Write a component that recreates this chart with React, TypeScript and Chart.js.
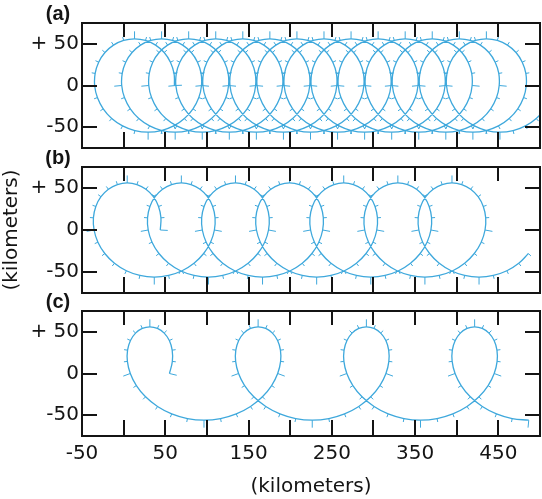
import React, { useEffect, useRef } from "react";
import { Chart, registerables } from "chart.js";

Chart.register(...registerables);

// ---------- axes ----------
const X_MIN = -50;
const X_MAX = 500;
const Y_MIN = -75;
const Y_MAX = 75;
const X_TICKS = [-50, 0, 50, 100, 150, 200, 250, 300, 350, 400, 450, 500];
const X_LABELED = [-50, 50, 150, 250, 350, 450];
const Y_TICKS = [-50, 0, 50];
const Y_LABELS: Record<string, string> = { "50": "+ 50", "0": "0", "-50": "-50" };
const PANEL_LABELS = ["(a)", "(b)", "(c)"];
const AXIS_TITLE = "(kilometers)";

// ---------- hourly positions (km) ----------
// (a) slow drift
const xA = [
  61, 60.5, 56.2, 48.7, 38.4, 26.3, 13.1, 0, -12.2, -22.4, -30, -34.2, -34.8, -31.5, -24.5, -14.3, -1.3, 13.5, 29.4, 45.2, 60.1, 73, 83.3, 90.3,
  93.5, 93, 88.7, 81.2, 70.9, 58.8, 45.6, 32.5, 20.3, 10.1, 2.5, -1.7, -2.3, 1, 8, 18.2, 31.2, 46, 61.9, 77.7, 92.6, 105.5, 115.8, 122.8,
  126, 125.5, 121.2, 113.7, 103.4, 91.3, 78.1, 65, 52.8, 42.6, 35, 30.8, 30.2, 33.5, 40.5, 50.7, 63.7, 78.5, 94.4, 110.2, 125.1, 138, 148.3, 155.3,
  158.5, 158, 153.7, 146.2, 135.9, 123.8, 110.6, 97.5, 85.3, 75.1, 67.5, 63.3, 62.7, 66, 73, 83.2, 96.2, 111, 126.9, 142.7, 157.6, 170.5, 180.8, 187.8,
  191, 190.5, 186.2, 178.7, 168.4, 156.3, 143.1, 130, 117.8, 107.6, 100, 95.8, 95.2, 98.5, 105.5, 115.7, 128.7, 143.5, 159.4, 175.2, 190.1, 203, 213.3, 220.3,
  223.5, 223, 218.7, 211.2, 200.9, 188.8, 175.6, 162.5, 150.3, 140.1, 132.5, 128.3, 127.7, 131, 138, 148.2, 161.2, 176, 191.9, 207.7, 222.6, 235.5, 245.8, 252.8,
  256, 255.5, 251.2, 243.7, 233.4, 221.3, 208.1, 195, 182.8, 172.6, 165, 160.8, 160.2, 163.5, 170.5, 180.7, 193.7, 208.5, 224.4, 240.2, 255.1, 268, 278.3, 285.3,
  288.5, 288, 283.7, 276.2, 265.9, 253.8, 240.6, 227.5, 215.3, 205.1, 197.5, 193.3, 192.7, 196, 203, 213.2, 226.2, 241, 256.9, 272.7, 287.6, 300.5, 310.8, 317.8,
  321, 320.5, 316.2, 308.7, 298.4, 286.3, 273.1, 260, 247.8, 237.6, 230, 225.8, 225.2, 228.5, 235.5, 245.7, 258.7, 273.5, 289.4, 305.2, 320.1, 333, 343.3, 350.3,
  353.5, 353, 348.7, 341.2, 330.9, 318.8, 305.6, 292.5, 280.3, 270.1, 262.5, 258.3, 257.7, 261, 268, 278.2, 291.2, 306, 321.9, 337.7, 352.6, 365.5, 375.8, 382.8,
  386, 385.5, 381.2, 373.7, 363.4, 351.3, 338.1, 325, 312.8, 302.6, 295, 290.8, 290.2, 293.5, 300.5, 310.7, 323.7, 338.5, 354.4, 370.2, 385.1, 398, 408.3, 415.3,
  418.5, 418, 413.7, 406.2, 395.9, 383.8, 370.6, 357.5, 345.3, 335.1, 327.5, 323.3, 322.7, 326, 333, 343.2, 356.2, 371, 386.9, 402.7, 417.6, 430.5, 440.8, 447.8,
  451, 450.5, 446.2, 438.7, 428.4, 416.3, 403.1, 390, 377.8, 367.6, 360, 355.8, 355.2, 358.5, 365.5, 375.7, 388.7, 403.5, 419.4, 435.2, 450.1, 463, 473.3, 480.3,
  483.5, 483, 478.7, 471.2, 460.9, 448.8, 435.6, 422.5, 410.3, 400.1, 392.5, 388.3, 387.7, 391, 398, 408.2, 421.2, 436, 451.9, 467.7, 482.6, 495.5, 505.8,
];
const yA = [
  0, 14.5, 28, 39.6, 48.5, 54.1, 56, 54.1, 48.5, 39.6, 28, 14.5, 0, -14.5, -28, -39.6, -48.5, -54.1, -56, -54.1, -48.5, -39.6, -28, -14.5,
  0, 14.5, 28, 39.6, 48.5, 54.1, 56, 54.1, 48.5, 39.6, 28, 14.5, 0, -14.5, -28, -39.6, -48.5, -54.1, -56, -54.1, -48.5, -39.6, -28, -14.5,
  0, 14.5, 28, 39.6, 48.5, 54.1, 56, 54.1, 48.5, 39.6, 28, 14.5, 0, -14.5, -28, -39.6, -48.5, -54.1, -56, -54.1, -48.5, -39.6, -28, -14.5,
  0, 14.5, 28, 39.6, 48.5, 54.1, 56, 54.1, 48.5, 39.6, 28, 14.5, 0, -14.5, -28, -39.6, -48.5, -54.1, -56, -54.1, -48.5, -39.6, -28, -14.5,
  0, 14.5, 28, 39.6, 48.5, 54.1, 56, 54.1, 48.5, 39.6, 28, 14.5, 0, -14.5, -28, -39.6, -48.5, -54.1, -56, -54.1, -48.5, -39.6, -28, -14.5,
  0, 14.5, 28, 39.6, 48.5, 54.1, 56, 54.1, 48.5, 39.6, 28, 14.5, 0, -14.5, -28, -39.6, -48.5, -54.1, -56, -54.1, -48.5, -39.6, -28, -14.5,
  0, 14.5, 28, 39.6, 48.5, 54.1, 56, 54.1, 48.5, 39.6, 28, 14.5, 0, -14.5, -28, -39.6, -48.5, -54.1, -56, -54.1, -48.5, -39.6, -28, -14.5,
  0, 14.5, 28, 39.6, 48.5, 54.1, 56, 54.1, 48.5, 39.6, 28, 14.5, 0, -14.5, -28, -39.6, -48.5, -54.1, -56, -54.1, -48.5, -39.6, -28, -14.5,
  0, 14.5, 28, 39.6, 48.5, 54.1, 56, 54.1, 48.5, 39.6, 28, 14.5, 0, -14.5, -28, -39.6, -48.5, -54.1, -56, -54.1, -48.5, -39.6, -28, -14.5,
  0, 14.5, 28, 39.6, 48.5, 54.1, 56, 54.1, 48.5, 39.6, 28, 14.5, 0, -14.5, -28, -39.6, -48.5, -54.1, -56, -54.1, -48.5, -39.6, -28, -14.5,
  0, 14.5, 28, 39.6, 48.5, 54.1, 56, 54.1, 48.5, 39.6, 28, 14.5, 0, -14.5, -28, -39.6, -48.5, -54.1, -56, -54.1, -48.5, -39.6, -28, -14.5,
  0, 14.5, 28, 39.6, 48.5, 54.1, 56, 54.1, 48.5, 39.6, 28, 14.5, 0, -14.5, -28, -39.6, -48.5, -54.1, -56, -54.1, -48.5, -39.6, -28, -14.5,
  0, 14.5, 28, 39.6, 48.5, 54.1, 56, 54.1, 48.5, 39.6, 28, 14.5, 0, -14.5, -28, -39.6, -48.5, -54.1, -56, -54.1, -48.5, -39.6, -28, -14.5,
  0, 14.5, 28, 39.6, 48.5, 54.1, 56, 54.1, 48.5, 39.6, 28, 14.5, 0, -14.5, -28, -39.6, -48.5, -54.1, -56, -54.1, -48.5, -39.6, -28,
];

// (b) moderate drift
const xB = [
  44, 44.8, 41.9, 35.7, 26.8, 16, 4.3, -7.5, -18.3, -27.2, -33.4, -36.3, -35.5, -30.9, -22.6, -11, 3.3, 19.5, 36.8, 54, 70.2, 84.5, 96.1, 104.4,
  109, 109.8, 106.9, 100.7, 91.8, 81, 69.3, 57.5, 46.7, 37.8, 31.6, 28.7, 29.5, 34.1, 42.4, 54, 68.3, 84.5, 101.8, 119, 135.2, 149.5, 161.1, 169.4,
  174, 174.8, 171.9, 165.7, 156.8, 146, 134.3, 122.5, 111.7, 102.8, 96.6, 93.7, 94.5, 99.1, 107.4, 119, 133.3, 149.5, 166.8, 184, 200.2, 214.5, 226.1, 234.4,
  239, 239.8, 236.9, 230.7, 221.8, 211, 199.3, 187.5, 176.7, 167.8, 161.6, 158.7, 159.5, 164.1, 172.4, 184, 198.3, 214.5, 231.8, 249, 265.2, 279.5, 291.1, 299.4,
  304, 304.8, 301.9, 295.7, 286.8, 276, 264.3, 252.5, 241.7, 232.8, 226.6, 223.7, 224.5, 229.1, 237.4, 249, 263.3, 279.5, 296.8, 314, 330.2, 344.5, 356.1, 364.4,
  369, 369.8, 366.9, 360.7, 351.8, 341, 329.3, 317.5, 306.7, 297.8, 291.6, 288.7, 289.5, 294.1, 302.4, 314, 328.3, 344.5, 361.8, 379, 395.2, 409.5, 421.1, 429.4,
  434, 434.8, 431.9, 425.7, 416.8, 406, 394.3, 382.5, 371.7, 362.8, 356.6, 353.7, 354.5, 359.1, 367.4, 379, 393.3, 409.5, 426.8, 444, 460.2, 474.5, 486.1,
];
const yB = [
  0, 14.5, 28, 39.6, 48.5, 54.1, 56, 54.1, 48.5, 39.6, 28, 14.5, 0, -14.5, -28, -39.6, -48.5, -54.1, -56, -54.1, -48.5, -39.6, -28, -14.5,
  0, 14.5, 28, 39.6, 48.5, 54.1, 56, 54.1, 48.5, 39.6, 28, 14.5, 0, -14.5, -28, -39.6, -48.5, -54.1, -56, -54.1, -48.5, -39.6, -28, -14.5,
  0, 14.5, 28, 39.6, 48.5, 54.1, 56, 54.1, 48.5, 39.6, 28, 14.5, 0, -14.5, -28, -39.6, -48.5, -54.1, -56, -54.1, -48.5, -39.6, -28, -14.5,
  0, 14.5, 28, 39.6, 48.5, 54.1, 56, 54.1, 48.5, 39.6, 28, 14.5, 0, -14.5, -28, -39.6, -48.5, -54.1, -56, -54.1, -48.5, -39.6, -28, -14.5,
  0, 14.5, 28, 39.6, 48.5, 54.1, 56, 54.1, 48.5, 39.6, 28, 14.5, 0, -14.5, -28, -39.6, -48.5, -54.1, -56, -54.1, -48.5, -39.6, -28, -14.5,
  0, 14.5, 28, 39.6, 48.5, 54.1, 56, 54.1, 48.5, 39.6, 28, 14.5, 0, -14.5, -28, -39.6, -48.5, -54.1, -56, -54.1, -48.5, -39.6, -28, -14.5,
  0, 14.5, 28, 39.6, 48.5, 54.1, 56, 54.1, 48.5, 39.6, 28, 14.5, 0, -14.5, -28, -39.6, -48.5, -54.1, -56, -54.1, -48.5, -39.6, -28,
];

// (c) fast drift
const xC = [
  55, 58.5, 58.3, 54.9, 48.7, 40.6, 31.5, 22.4, 14.3, 8.2, 4.7, 4.5, 8, 15.3, 26.3, 40.7, 57.7, 76.6, 96.5, 116.4, 135.3, 152.4, 166.7, 177.7,
  185, 188.5, 188.3, 184.9, 178.7, 170.6, 161.5, 152.4, 144.3, 138.2, 134.7, 134.5, 138, 145.3, 156.3, 170.7, 187.7, 206.6, 226.5, 246.4, 265.3, 282.4, 296.7, 307.7,
  315, 318.5, 318.3, 314.9, 308.7, 300.6, 291.5, 282.4, 274.3, 268.2, 264.7, 264.5, 268, 275.3, 286.3, 300.7, 317.7, 336.6, 356.5, 376.4, 395.3, 412.4, 426.7, 437.7,
  445, 448.5, 448.3, 444.9, 438.7, 430.6, 421.5, 412.4, 404.3, 398.2, 394.7, 394.5, 398, 405.3, 416.3, 430.7, 447.7, 466.6, 486.5,
];
const yC = [
  0, 14.5, 28, 39.6, 48.5, 54.1, 56, 54.1, 48.5, 39.6, 28, 14.5, 0, -14.5, -28, -39.6, -48.5, -54.1, -56, -54.1, -48.5, -39.6, -28, -14.5,
  0, 14.5, 28, 39.6, 48.5, 54.1, 56, 54.1, 48.5, 39.6, 28, 14.5, 0, -14.5, -28, -39.6, -48.5, -54.1, -56, -54.1, -48.5, -39.6, -28, -14.5,
  0, 14.5, 28, 39.6, 48.5, 54.1, 56, 54.1, 48.5, 39.6, 28, 14.5, 0, -14.5, -28, -39.6, -48.5, -54.1, -56, -54.1, -48.5, -39.6, -28, -14.5,
  0, 14.5, 28, 39.6, 48.5, 54.1, 56, 54.1, 48.5, 39.6, 28, 14.5, 0, -14.5, -28, -39.6, -48.5, -54.1, -56,
];

// ---------- styles ----------
const CURVE = "#3ea8dc";
const INK = "#141414";
const FONT = '"DejaVu Sans", "Liberation Sans", Arial, sans-serif';
const LABEL_FONT = '"Liberation Sans", Arial, Helvetica, sans-serif';

const decorPlugin = {
  id: "decor",
  afterDatasetsDraw(chart: any, _args: any, opts: any) {
    const ctx: CanvasRenderingContext2D = chart.ctx;
    const a = chart.chartArea;
    const pts = chart.getDatasetMeta(0).data;
    // hourly time marks along the track (longer every 6 h)
    ctx.save();
    ctx.beginPath();
    ctx.rect(a.left, a.top, a.right - a.left, a.bottom - a.top);
    ctx.clip();
    ctx.strokeStyle = CURVE;
    ctx.lineWidth = 1;
    ctx.beginPath();
    for (let i = 0; i < pts.length; i++) {
      const p0 = pts[Math.max(i - 1, 0)];
      const p1 = pts[Math.min(i + 1, pts.length - 1)];
      let dx = p1.x - p0.x;
      let dy = p1.y - p0.y;
      const len = Math.hypot(dx, dy) || 1;
      dx /= len;
      dy /= len;
      const nx = -dy;
      const ny = dx;
      const L = i % 6 === 0 ? 7.5 : 3.5;
      const p = pts[i];
      ctx.moveTo(p.x, p.y);
      ctx.lineTo(p.x + nx * L, p.y + ny * L);
    }
    ctx.stroke();
    ctx.restore();

    // frame and inward ticks
    const xs = chart.scales.x;
    const ys = chart.scales.y;
    ctx.save();
    ctx.strokeStyle = INK;
    ctx.lineWidth = 2;
    ctx.strokeRect(a.left, a.top, a.right - a.left, a.bottom - a.top);
    ctx.beginPath();
    X_TICKS.forEach((v) => {
      if (v <= X_MIN || v >= X_MAX) return;
      const px = Math.round(xs.getPixelForValue(v));
      ctx.moveTo(px, a.top);
      ctx.lineTo(px, a.top + 14);
      ctx.moveTo(px, a.bottom);
      ctx.lineTo(px, a.bottom - 16);
    });
    Y_TICKS.forEach((v) => {
      const py = Math.round(ys.getPixelForValue(v));
      ctx.moveTo(a.left, py);
      ctx.lineTo(a.left + 15, py);
      ctx.moveTo(a.right, py);
      ctx.lineTo(a.right - 15, py);
    });
    ctx.stroke();
    ctx.fillStyle = INK;
    ctx.font = `bold 20px ${LABEL_FONT}`;
    ctx.textAlign = "center";
    ctx.textBaseline = "middle";
    ctx.fillText(opts.label, a.left - 24, a.top - 9);
    ctx.restore();
  },
};

type PanelProps = {
  xs: number[];
  ys: number[];
  label: string;
  top: number;
  height: number;
  padTop: number;
  padBottom: number;
  showX: boolean;
  showYTitle: boolean;
};

function Panel(props: PanelProps) {
  const ref = useRef<HTMLCanvasElement | null>(null);
  useEffect(() => {
    if (!ref.current) return;
    const points = props.xs.map((x, i) => ({ x, y: props.ys[i] }));
    const chart = new Chart(ref.current, {
      type: "scatter",
      data: {
        datasets: [
          {
            data: points,
            showLine: true,
            borderColor: CURVE,
            borderWidth: 1.3,
            pointRadius: 0,
            pointHoverRadius: 0,
            tension: 0.4,
            fill: false,
            clip: 0,
          } as any,
        ],
      },
      options: {
        animation: false,
        responsive: false,
        events: [],
        layout: { padding: { top: props.padTop, bottom: props.padBottom, left: 0, right: 2 } },
        plugins: {
          legend: { display: false },
          tooltip: { enabled: false },
          decor: { label: props.label },
        } as any,
        scales: {
          x: {
            type: "linear",
            min: X_MIN,
            max: X_MAX,
            display: props.showX,
            afterBuildTicks: (s: any) => {
              s.ticks = X_TICKS.map((v) => ({ value: v }));
            },
            afterFit: (s: any) => {
              s.height = props.showX ? 63 : 0;
              s.paddingLeft = 0;
              s.paddingRight = 0;
            },
            grid: { display: false, drawTicks: false },
            border: { display: false },
            ticks: {
              padding: 6,
              autoSkip: false,
              maxRotation: 0,
              color: INK,
              font: { family: FONT, size: 20 },
              callback: (v: any) => (X_LABELED.includes(Number(v)) ? String(v) : ""),
            },
            title: {
              display: props.showX,
              text: AXIS_TITLE,
              color: INK,
              font: { family: FONT, size: 20 },
              padding: { top: 0, bottom: 0 },
            },
          },
          y: {
            type: "linear",
            min: Y_MIN,
            max: Y_MAX,
            afterBuildTicks: (s: any) => {
              s.ticks = Y_TICKS.map((v) => ({ value: v }));
            },
            afterFit: (s: any) => {
              s.width = 82;
              s.paddingTop = 0;
              s.paddingBottom = 0;
            },
            grid: { display: false, drawTicks: false },
            border: { display: false },
            ticks: {
              padding: 3,
              color: INK,
              font: { family: FONT, size: 20 },
              callback: (v: any) => Y_LABELS[String(v)] ?? "",
            },
            title: {
              display: props.showYTitle,
              text: AXIS_TITLE,
              color: INK,
              font: { family: FONT, size: 20 },
              padding: { top: 0, bottom: 0 },
            },
          },
        },
      } as any,
      plugins: [decorPlugin as any],
    });
    return () => chart.destroy();
  }, []);
  return (
    <canvas
      ref={ref}
      width={542}
      height={props.height}
      style={{ position: "absolute", left: 0, top: props.top, width: 542, height: props.height }}
    />
  );
}

export default function App() {
  return (
    <div style={{ position: "absolute", left: 0, top: 0, width: 542, height: 499, background: "#fff", overflow: "hidden" }}>
      <Panel xs={xA} ys={yA} label={PANEL_LABELS[0]} top={0} height={150} padTop={23} padBottom={2} showX={false} showYTitle={false} />
      <Panel xs={xB} ys={yB} label={PANEL_LABELS[1]} top={150} height={146} padTop={17} padBottom={3} showX={false} showYTitle={true} />
      <Panel xs={xC} ys={yC} label={PANEL_LABELS[2]} top={290} height={209} padTop={21} padBottom={0} showX={true} showYTitle={false} />
    </div>
  );
}
